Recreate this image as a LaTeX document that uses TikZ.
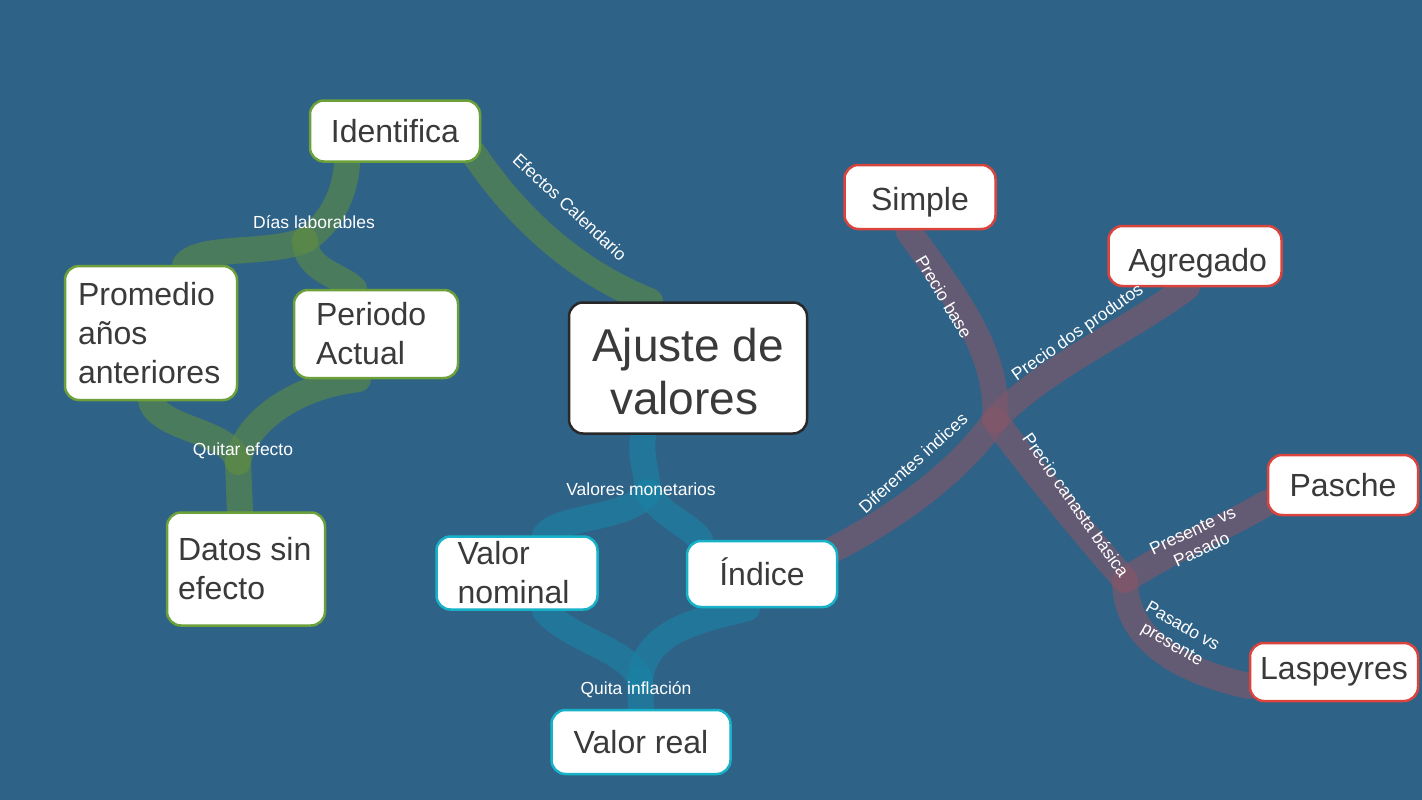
\documentclass[tikz,border=0pt]{standalone}
\usepackage{fontspec}
\setmainfont{Liberation Sans}
\usetikzlibrary{calc,backgrounds}
\definecolor{bg}{RGB}{47,98,135}
\definecolor{txt}{RGB}{58,58,58}
\definecolor{gborder}{RGB}{108,160,58}
\definecolor{cborder}{RGB}{24,178,200}
\definecolor{rborder}{RGB}{217,69,62}
\definecolor{kborder}{RGB}{40,40,40}
\definecolor{gstroke}{RGB}{91,137,71}
\definecolor{cstroke}{RGB}{27,129,164}
\definecolor{rstroke}{RGB}{128,87,106}
\newcommand{\dropby}[2]{\raisebox{-#1}[\height][\depth]{#2}}
\tikzset{
  box/.style={draw, line width=2.5pt, fill=white, rounded corners=14pt, text=txt,
    font=\fontsize{32}{39}\selectfont, inner sep=0pt, align=center},
  gbox/.style={box, draw=gborder},
  cbox/.style={box, draw=cborder},
  rbox/.style={box, draw=rborder},
  kbox/.style={box, draw=kborder, font=\fontsize{46}{53}\selectfont},
  lab/.style={text=white, font=\fontsize{17.5}{21}\selectfont, inner sep=0pt, align=center},
  gline/.style={draw=gstroke, line width=26pt, line cap=round, opacity=0.65},
  cline/.style={draw=cstroke, line width=26pt, line cap=round, opacity=0.65},
  rline/.style={draw=rstroke, line width=26pt, line cap=round, opacity=0.65},
}
\begin{document}
\begin{tikzpicture}[x=1pt,y=-1pt]
\useasboundingbox (0,0) rectangle (1422,800);
% nodes
\node[gbox, minimum width=170pt, minimum height=61pt] (id) at (395,131) {Identifica};
\node[gbox, minimum width=172pt, minimum height=134pt, text width=146pt, align=flush left] (prom) at (151,333) {Promedio\\años\\anteriores};
\node[gbox, minimum width=164pt, minimum height=88pt, text width=120pt, align=flush left] (per) at (376,334) {Periodo\\Actual};
\node[gbox, minimum width=158pt, minimum height=113pt, text width=136pt, align=flush left] (dat) at (246,569) {Datos sin\\efecto};
\node[kbox, minimum width=238pt, minimum height=131pt] (aj) at (688,368) {\dropby{4pt}{Ajuste de}\\\dropby{4pt}{valores\,}};
\node[cbox, minimum width=161pt, minimum height=73pt, text width=119pt, align=flush left] (vn) at (517,573) {Valor\\nominal};
\node[cbox, minimum width=150pt, minimum height=66pt] (ind) at (762,574) {\dropby{-2pt}{Índice}};
\node[cbox, minimum width=179pt, minimum height=64pt] (vr) at (641,742) {Valor real};
\node[rbox, minimum width=151pt, minimum height=64pt] (sim) at (920,197) {\dropby{5pt}{Simple}};
\node[rbox, minimum width=173pt, minimum height=60pt] (ag) at (1195,256) {\dropby{7pt}{\,Agregado}};
\node[rbox, minimum width=150pt, minimum height=60pt] (pa) at (1343,485) {Pasche};
\node[rbox, minimum width=168pt, minimum height=58pt] (la) at (1334,672) {Laspeyres};
% junctions
\coordinate (jg1) at (305,240);
\coordinate (jg2) at (238,462);
\coordinate (jc1) at (648,492);
\coordinate (jc2) at (640,680);
\coordinate (hr) at (995,420);
\coordinate (jr) at (1125,580);
\begin{pgfonlayer}{background}
\fill[bg] (0,0) rectangle (1422,800);
% green
\draw[gline] ($(id.south)+(-48,0)$) .. controls (345,200) and (325,228) .. (jg1);
\draw[gline] (jg1) .. controls (270,255) and (200,245) .. ($(prom.north)+(34,0)$);
\draw[gline] (jg1) .. controls (305,270) and (340,275) .. ($(per.north)+(-22,0)$);
\draw[gline] ($(id.east)+(-8,22)$) .. controls (505,200) and (560,265) .. ($(aj.north)+(-38,0)$);
\draw[gline] (prom.south) .. controls (160,430) and (230,430) .. (jg2);
\draw[gline] ($(per.south)+(-18,0)$) .. controls (300,385) and (245,420) .. (jg2);
\draw[gline] (jg2) -- ($(dat.north)+(-6,0)$);
% cyan
\draw[cline] ($(aj.south)+(-45,0)$) .. controls (640,460) and (648,475) .. (jc1);
\draw[cline] (jc1) .. controls (630,520) and (560,515) .. ($(vn.north)+(28,0)$);
\draw[cline] (jc1) .. controls (660,515) and (690,525) .. ($(ind.north)+(-62,0)$);
\draw[cline] ($(vn.south)+(28,0)$) .. controls (570,640) and (630,650) .. (jc2);
\draw[cline] ($(ind.south)+(-15,0)$) .. controls (700,620) and (645,630) .. (jc2);
\draw[cline] (jc2) -- (vr.north);
% red
\draw[rline] ($(ind.east)+(-6,-24)$) .. controls (900,515) and (960,470) .. (hr);
\draw[rline] ($(sim.south)+(-12,0)$) .. controls (950,290) and (1000,350) .. (hr);
\draw[rline] ($(ag.south)+(-8,0)$) .. controls (1130,330) and (1040,370) .. (hr);
\draw[rline] (hr) .. controls (1040,480) and (1090,540) .. (jr);
\draw[rline] (jr) .. controls (1180,545) and (1230,525) .. ($(pa.west)+(0,18)$);
\draw[rline] (jr) .. controls (1125,650) and (1200,675) .. ($(la.west)+(0,14)$);
\end{pgfonlayer}
% labels
\node[lab] (l1) at (314,222) {Días laborables};
\node[lab, rotate=-43] (l2) at (570,207) {Efectos Calendario};
\node[lab] (l3) at (243,451) {Quitar efecto};
\node[lab] (l4) at (641,489) {Valores monetarios};
\node[lab] (l5) at (636,690) {Quita inflación};
\node[lab, rotate=-59] (l6) at (944,297) {Precio base};
\node[lab, rotate=35] (l7) at (1078,333) {Precio dos produtos};
\node[lab, rotate=42] (l8) at (913,463) {Diferentes indices};
\node[lab, rotate=-55] (l9) at (1076,505) {Precio canasta básica};
\node[lab, rotate=25] (l10) at (1197,540) {Presente vs\\Pasado};
\node[lab, rotate=-30] (l11) at (1177,636) {Pasado vs\\presente};
\end{tikzpicture}
\end{document}
